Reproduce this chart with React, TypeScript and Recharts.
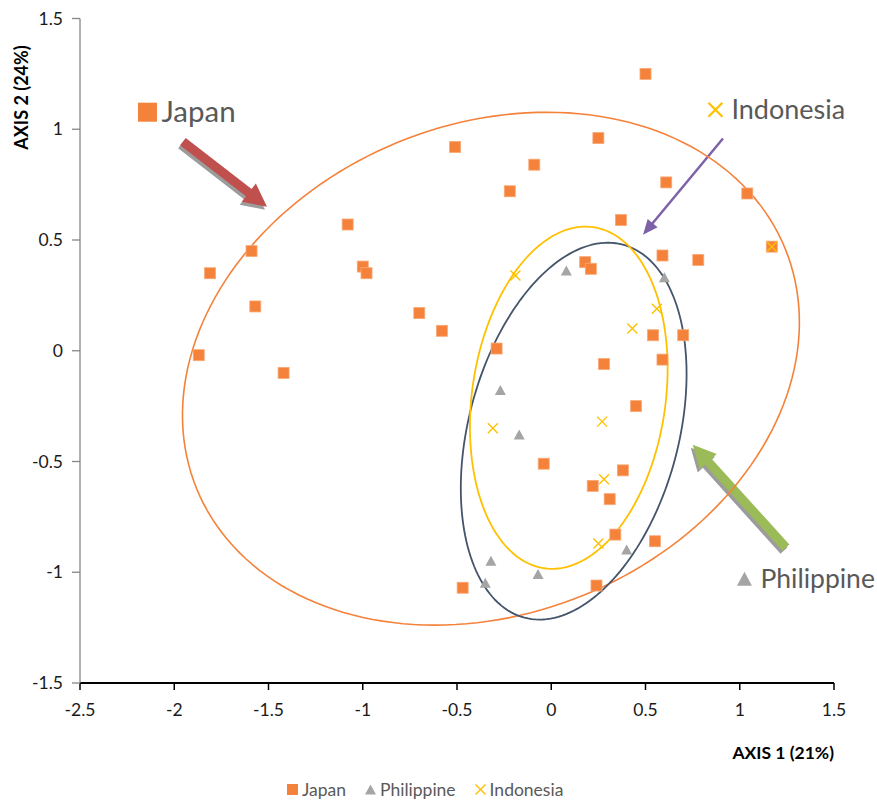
import React from 'react';
import { ScatterChart, Scatter, XAxis, YAxis, Legend, ReferenceLine, ReferenceDot } from 'recharts';

const FONT = 'Lato, "Open Sans", sans-serif';

// Axis ticks
const xTicks = [-2.5, -2, -1.5, -1, -0.5, 0, 0.5, 1, 1.5];
const yTicks = [-1.5, -1, -0.5, 0, 0.5, 1, 1.5];

// Series values [axis1, axis2]
const japanPoints: [number, number][] = [
  [0.50, 1.25], [0.25, 0.96], [-0.51, 0.92], [-0.09, 0.84], [-0.22, 0.72],
  [0.61, 0.76], [1.04, 0.71], [-1.08, 0.57], [0.37, 0.59], [-1.59, 0.45],
  [-1.81, 0.35], [-1.00, 0.38], [-0.98, 0.35], [-1.57, 0.20], [-0.70, 0.17],
  [-0.58, 0.09], [-1.87, -0.02], [-1.42, -0.10], [0.18, 0.40], [0.21, 0.37],
  [0.59, 0.43], [0.78, 0.41], [1.17, 0.47], [-0.29, 0.01], [0.54, 0.07],
  [0.70, 0.07], [0.59, -0.04], [0.28, -0.06], [0.45, -0.25], [-0.04, -0.51],
  [0.38, -0.54], [0.22, -0.61], [0.31, -0.67], [0.34, -0.83], [0.55, -0.86],
  [0.24, -1.06], [-0.47, -1.07],
];
const philippinePoints: [number, number][] = [
  [0.08, 0.36], [0.60, 0.33], [-0.27, -0.18], [-0.17, -0.38],
  [0.40, -0.90], [-0.32, -0.95], [-0.07, -1.01], [-0.35, -1.05],
];
const indonesiaPoints: [number, number][] = [
  [-0.19, 0.34], [0.56, 0.19], [0.43, 0.10], [0.27, -0.32],
  [-0.31, -0.35], [0.28, -0.58], [0.25, -0.87], [1.17, 0.47],
];

// Group ellipses (centre and conjugate semi-axis vectors, data units)
const japanEllipse = { cx: -0.320, cy: -0.081, ux: 1.561, uy: 0.542, vx: 0.491, vy: -1.023 };
const philippineEllipse = { cx: 0.119, cy: -0.363, ux: 0.261, uy: 0.842, vx: 0.539, vy: -0.121 };
const indonesiaEllipse = { cx: 0.093, cy: -0.212, ux: 0.130, uy: 0.770, vx: 0.508, vy: -0.062 };

const seriesNames = ['Japan', 'Philippine', 'Indonesia'];

// Annotation callouts (data units)
const calloutLabels = [
  { at: [-2.142, 1.077], text: 'Japan', marker: 'square' },
  { at: [0.871, 1.088], text: 'Indonesia', marker: 'cross' },
  { at: [1.025, -1.029], text: 'Philippine', marker: 'triangle' },
];
const calloutArrows = [
  { from: [-1.954, 0.944], to: [-1.508, 0.650], kind: 'block', color: '#C0504D' },
  { from: [0.911, 0.958], to: [0.487, 0.524], kind: 'line', color: '#7E62A8' },
  { from: [1.245, -0.889], to: [0.751, -0.424], kind: 'block', color: '#9BBB59' },
];

const ORANGE = '#F5823A';
const GRAY = '#A5A5A5';
const YELLOW = '#FFC000';
const NAVY = '#44546A';

const toObjs = (pts: [number, number][]) => pts.map(([x, y]) => ({ x, y }));

const ellipsePath = (e: typeof japanEllipse) => {
  const out: { x: number; y: number }[] = [];
  const n = 180;
  for (let i = 0; i <= n; i++) {
    const t = (i / n) * Math.PI * 2;
    out.push({
      x: e.cx + e.ux * Math.cos(t) + e.vx * Math.sin(t),
      y: e.cy + e.uy * Math.cos(t) + e.vy * Math.sin(t),
    });
  }
  return out;
};

const SquareMarker = (p: any) => (
  <rect x={p.cx - 5.5} y={p.cy - 5.5} width={11} height={11} fill={ORANGE} stroke="#F8A977" strokeWidth={0.8} />
);
const TriangleMarker = (p: any) => (
  <polygon points={`${p.cx},${p.cy - 5.5} ${p.cx + 5.5},${p.cy + 4.5} ${p.cx - 5.5},${p.cy + 4.5}`} fill={GRAY} />
);
const CrossMarker = (p: any) => (
  <g stroke={YELLOW} strokeWidth={1.4}>
    <line x1={p.cx - 5} y1={p.cy - 5} x2={p.cx + 5} y2={p.cy + 5} />
    <line x1={p.cx - 5} y1={p.cy + 5} x2={p.cx + 5} y2={p.cy - 5} />
  </g>
);
const NoMarker = () => <g />;

const blockArrowPoints = (x1: number, y1: number, x2: number, y2: number, dx = 0, dy = 0) => {
  const len = Math.hypot(x2 - x1, y2 - y1);
  const ux = (x2 - x1) / len, uy = (y2 - y1) / len;
  const nx = -uy, ny = ux;
  const w = 4.6, hw = 11.5, hl = 23;
  const bx = x2 - ux * hl, by = y2 - uy * hl;
  const pts = [
    [x1 + nx * w, y1 + ny * w], [bx + nx * w, by + ny * w], [bx + nx * hw, by + ny * hw],
    [x2, y2],
    [bx - nx * hw, by - ny * hw], [bx - nx * w, by - ny * w], [x1 - nx * w, y1 - ny * w],
  ];
  return pts.map(([a, b]) => `${a + dx},${b + dy}`).join(' ');
};

const makeArrowShape = (kind: string, color: string) => (p: any) => {
  const { x1, y1, x2, y2 } = p;
  if (kind === 'block') {
    return (
      <g>
        <polygon points={blockArrowPoints(x1, y1, x2, y2, -2, 3)} fill="#9C9C9C" />
        <polygon points={blockArrowPoints(x1, y1, x2, y2)} fill={color} />
      </g>
    );
  }
  const len = Math.hypot(x2 - x1, y2 - y1);
  const ux = (x2 - x1) / len, uy = (y2 - y1) / len;
  const nx = -uy, ny = ux;
  const hl = 15, hw = 6.5;
  const bx = x2 - ux * hl, by = y2 - uy * hl;
  return (
    <g>
      <line x1={x1} y1={y1} x2={bx + ux * 2} y2={by + uy * 2} stroke={color} strokeWidth={2.5} />
      <polygon points={`${x2},${y2} ${bx + nx * hw},${by + ny * hw} ${bx - nx * hw},${by - ny * hw}`} fill={color} />
    </g>
  );
};

const calloutFontSize: Record<string, number> = { square: 29.5, cross: 27, triangle: 26.5 };

const makeCalloutShape = (text: string, marker: string) => (p: any) => {
  const { cx, cy } = p;
  let icon: React.ReactNode = null;
  let off = 16;
  if (marker === 'square') {
    icon = <rect x={cx - 9.5} y={cy - 9.5} width={19} height={19} fill={ORANGE} />;
    off = 14;
  } else if (marker === 'cross') {
    icon = (
      <g stroke={YELLOW} strokeWidth={2.2}>
        <line x1={cx - 7} y1={cy - 7} x2={cx + 7} y2={cy + 7} />
        <line x1={cx - 7} y1={cy + 7} x2={cx + 7} y2={cy - 7} />
      </g>
    );
  } else {
    icon = <polygon points={`${cx},${cy - 7} ${cx + 7.5},${cy + 7} ${cx - 7.5},${cy + 7}`} fill={GRAY} />;
  }
  return (
    <g>
      {icon}
      <text x={cx + off} y={cy + 9.5} fill="#595959" fontSize={calloutFontSize[marker]} fontFamily={FONT}>{text}</text>
    </g>
  );
};

const XTitle = (props: any) => {
  const vb = props.viewBox;
  return (
    <text x={vb.x + vb.width} y={vb.y + 76} textAnchor="end" fontSize={17.5} fontWeight="bold" fontFamily={FONT} fill="#000">
      AXIS 1 (21%)
    </text>
  );
};
const YTitle = (props: any) => {
  const vb = props.viewBox;
  const cy = vb.y + 79;
  return (
    <text x={0} y={0} transform={`translate(28, ${cy}) rotate(-90)`} textAnchor="middle" fontSize={18} fontWeight="bold" fontFamily={FONT} fill="#000">
      AXIS 2 (24%)
    </text>
  );
};

const legendIcons: Record<string, React.ReactNode> = {
  Japan: <rect x={0} y={0} width={11} height={11} fill={ORANGE} />,
  Philippine: <polygon points="5.5,0.5 11,10.5 0,10.5" fill={GRAY} />,
  Indonesia: (
    <g stroke={YELLOW} strokeWidth={1.4}>
      <line x1={0.5} y1={0.5} x2={10.5} y2={10.5} />
      <line x1={0.5} y1={10.5} x2={10.5} y2={0.5} />
    </g>
  ),
};

const LegendContent = () => (
  <div style={{ display: 'flex', alignItems: 'center', paddingLeft: 287, height: 26, fontFamily: FONT, fontSize: 17.5, color: '#595959' }}>
    {seriesNames.map((name) => (
      <div key={name} style={{ display: 'flex', alignItems: 'center', marginRight: 19 }}>
        <svg width={11} height={11} style={{ marginRight: 4 }}>{legendIcons[name]}</svg>
        <span>{name}</span>
      </div>
    ))}
  </div>
);

export default function App() {
  return (
    <div style={{ position: 'absolute', left: 0, top: 0, background: '#fff' }}>
      <ScatterChart width={877} height={802} margin={{ top: 18.5, right: 43, bottom: 0, left: 0 }}>
        <XAxis
          type="number"
          dataKey="x"
          domain={[-2.5, 1.5]}
          ticks={xTicks}
          allowDataOverflow
          height={93}
          tickSize={7}
          tickMargin={14}
          axisLine={{ stroke: '#000', strokeWidth: 2 }}
          tickLine={{ stroke: '#000', strokeWidth: 1.5 }}
          tick={{ fill: '#1a1a1a', fontSize: 17.5, fontFamily: FONT }}
          label={<XTitle />}
        />
        <YAxis
          type="number"
          dataKey="y"
          domain={[-1.5, 1.5]}
          ticks={yTicks}
          allowDataOverflow
          width={80}
          tickSize={8}
          tickMargin={9}
          axisLine={{ stroke: '#868686', strokeWidth: 1.3 }}
          tickLine={{ stroke: '#868686', strokeWidth: 1.3 }}
          tick={{ fill: '#1a1a1a', fontSize: 17.5, fontFamily: FONT }}
          label={<YTitle />}
        />
        <Legend verticalAlign="bottom" height={26} content={<LegendContent />} />
        <Scatter name="Japan ellipse" data={ellipsePath(japanEllipse)} line={{ stroke: ORANGE, strokeWidth: 1.6 }} lineJointType="linear" shape={NoMarker} legendType="none" isAnimationActive={false} />
        <Scatter name="Philippine ellipse" data={ellipsePath(philippineEllipse)} line={{ stroke: NAVY, strokeWidth: 1.8 }} lineJointType="linear" shape={NoMarker} legendType="none" isAnimationActive={false} />
        <Scatter name="Indonesia ellipse" data={ellipsePath(indonesiaEllipse)} line={{ stroke: YELLOW, strokeWidth: 1.8 }} lineJointType="linear" shape={NoMarker} legendType="none" isAnimationActive={false} />
        <Scatter name="Japan" data={toObjs(japanPoints)} shape={SquareMarker} isAnimationActive={false} />
        <Scatter name="Philippine" data={toObjs(philippinePoints)} shape={TriangleMarker} isAnimationActive={false} />
        <Scatter name="Indonesia" data={toObjs(indonesiaPoints)} shape={CrossMarker} isAnimationActive={false} />
        {calloutArrows.map((a, i) => (
          <ReferenceLine
            key={`arrow-${i}`}
            segment={[{ x: a.from[0], y: a.from[1] }, { x: a.to[0], y: a.to[1] }]}
            ifOverflow="visible"
            shape={makeArrowShape(a.kind, a.color)}
          />
        ))}
        {calloutLabels.map((c, i) => (
          <ReferenceDot
            key={`label-${i}`}
            x={c.at[0]}
            y={c.at[1]}
            r={1}
            ifOverflow="visible"
            shape={makeCalloutShape(c.text, c.marker)}
          />
        ))}
      </ScatterChart>
    </div>
  );
}
